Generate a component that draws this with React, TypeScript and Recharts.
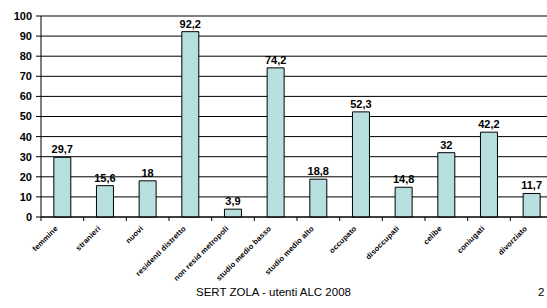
import React from 'react';
import { BarChart, Bar, XAxis, YAxis, CartesianGrid, LabelList } from 'recharts';

const categories = [
    'femmine',
    'stranieri',
    'nuovi',
    'residenti distretto',
    'non resid metropoli',
    'studio medio basso',
    'studio medio alto',
    'occupato',
    'disoccupati',
    'celibe',
    'coniugati',
    'divorziato'
];

const values = [29.7, 15.6, 18, 92.2, 3.9, 74.2, 18.8, 52.3, 14.8, 32, 42.2, 11.7];

const yTicks = [0, 10, 20, 30, 40, 50, 60, 70, 80, 90, 100];

const data = categories.map((name, i) => ({ name, value: values[i] }));

const FONT = 'Arial, "Liberation Sans", sans-serif';
const BAND = 512 / categories.length;

// tick marks sit between categories, labels are rotated
const CategoryTick = (props: any) => {
    const { x, y, payload } = props;
    const tx = x - 4;
    const ty = y + 8;
    return (
        <g>
            <line x1={x - BAND / 2} y1={y - 4} x2={x - BAND / 2} y2={y} stroke="#000" />
            <text
                x={tx}
                y={ty}
                textAnchor="end"
                transform={`rotate(-45, ${tx}, ${ty})`}
                fontSize={7.5}
                letterSpacing={0.2}
                fontWeight="bold"
                fontFamily={FONT}
                fill="#000"
            >
                {payload.value}
            </text>
        </g>
    );
};

const fmt = (v: any) => String(v).replace('.', ',');

const App = () => {
    return (
        <div style={{ position: 'absolute', left: 0, top: 0, width: 547, height: 308, overflow: 'hidden', background: '#fff' }}>
            <BarChart
                width={560}
                height={308}
                data={data}
                margin={{ top: 16, right: 7, left: 0, bottom: 0 }}
                barCategoryGap="30%"
            >
                <CartesianGrid vertical={false} stroke="#000" strokeWidth={1} />
                <XAxis
                    dataKey="name"
                    interval={0}
                    height={91}
                    tickLine={false}
                    tickSize={4}
                    axisLine={{ stroke: '#000' }}
                    tick={<CategoryTick />}
                    tickMargin={0}
                />
                <YAxis
                    domain={[0, 100]}
                    ticks={yTicks}
                    width={41}
                    tickSize={5}
                    tickMargin={4}
                    axisLine={{ stroke: '#000' }}
                    tickLine={{ stroke: '#000' }}
                    tick={{ fontSize: 11, fontWeight: 'bold', fill: '#000', fontFamily: FONT }}
                    interval={0}
                />
                <Bar dataKey="value" fill="#b8dfe0" stroke="#000" strokeWidth={1} isAnimationActive={false}>
                    <LabelList
                        dataKey="value"
                        position="top"
                        offset={4}
                        formatter={fmt}
                        style={{ fontSize: 11, fontWeight: 'bold', fill: '#000', fontFamily: FONT }}
                    />
                </Bar>
            </BarChart>
            <div style={{ position: 'absolute', left: 0, width: 547, top: 286, textAlign: 'center', fontFamily: FONT, fontSize: 11.5 }}>
                SERT ZOLA - utenti ALC 2008
            </div>
            <div style={{ position: 'absolute', left: 538, top: 286, fontFamily: FONT, fontSize: 11.5 }}>2</div>
        </div>
    );
};

export default App;
